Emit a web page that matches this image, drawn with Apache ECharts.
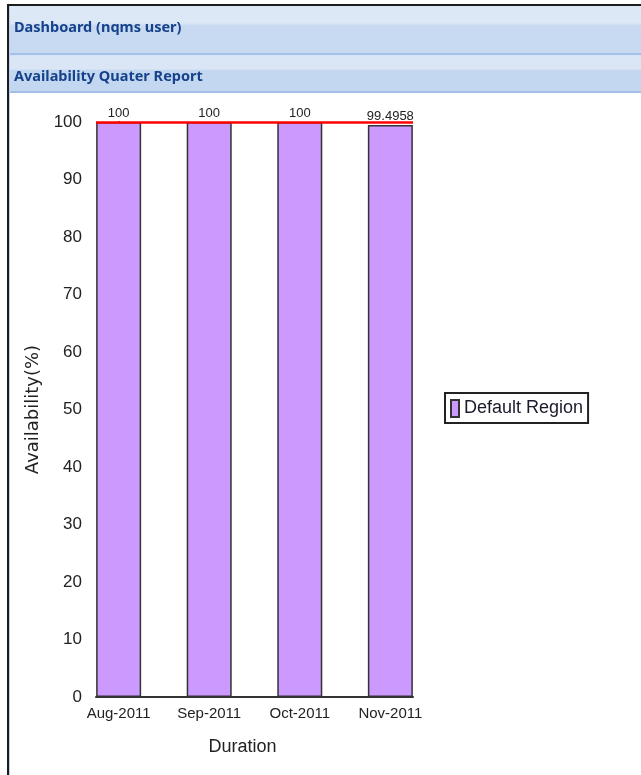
<!DOCTYPE html>
<html>
<head>
<meta charset="utf-8">
<title>Availability Quater Report</title>
<script src="https://cdn.jsdelivr.net/npm/echarts@6/dist/echarts.min.js"></script>
<style>
  html, body { margin: 0; padding: 0; background: #ffffff; }
  #chart { width: 641px; height: 775px; }
</style>
</head>
<body>
<div id="chart"></div>
<script>
// Panel headings
const panelTitle = 'Dashboard (nqms user)';
const reportTitle = 'Availability Quater Report';

// Report data: monthly availability per region
const categories = ['Aug-2011', 'Sep-2011', 'Oct-2011', 'Nov-2011'];
const availability = [100, 100, 100, 99.4958];
const seriesName = 'Default Region';
const targetLevel = 100;

// Axis ticks and titles
const yTicks = [0, 10, 20, 30, 40, 50, 60, 70, 80, 90, 100];
const yAxisTitle = 'Availability(%)';
const xAxisTitle = 'Duration';

const chart = echarts.init(document.getElementById('chart'), null, { renderer: 'canvas' });

const barData = categories.map((c, i) => [i, availability[i]]);
const categoryPositions = categories.map((c, i) => i);

function headerBar(y, h, light, dark) {
  return {
    type: 'rect',
    silent: true,
    shape: { x: 10, y: y, width: 631, height: h },
    style: {
      fill: new echarts.graphic.LinearGradient(0, 0, 0, 1, [
        { offset: 0, color: light },
        { offset: 0.36, color: light },
        { offset: 0.42, color: dark },
        { offset: 1, color: dark }
      ])
    },
    z: 0
  };
}

const option = {
  backgroundColor: '#ffffff',
  animation: false,
  graphic: [
    // frame
    { type: 'rect', silent: true, shape: { x: 7, y: 4, width: 634, height: 2 }, style: { fill: '#1c1c1c' }, z: 2 },
    { type: 'rect', silent: true, shape: { x: 7, y: 4, width: 2, height: 771 }, style: { fill: '#1c1c1c' }, z: 2 },
    { type: 'rect', silent: true, shape: { x: 9, y: 6, width: 1, height: 769 }, style: { fill: '#b9cfee' }, z: 2 },
    // heading bars
    headerBar(6, 47, '#dde8f7', '#c8daf1'),
    { type: 'rect', silent: true, shape: { x: 10, y: 53, width: 631, height: 2 }, style: { fill: '#a6c1e7' }, z: 1 },
    { type: 'rect', silent: true, shape: { x: 10, y: 55, width: 631, height: 1 }, style: { fill: '#d5e3f6' }, z: 1 },
    headerBar(56, 35, '#dae6f6', '#c4d7f0'),
    { type: 'rect', silent: true, shape: { x: 10, y: 91, width: 631, height: 2 }, style: { fill: '#a3bfe7' }, z: 1 },
    {
      type: 'text', silent: true, x: 14, y: 28, z: 3,
      style: {
        text: panelTitle, fill: '#15428b',
        font: 'bold 14.5px "Noto Sans", sans-serif',
        verticalAlign: 'middle', align: 'left'
      }
    },
    {
      type: 'text', silent: true, x: 14, y: 77, z: 3,
      style: {
        text: reportTitle, fill: '#15428b',
        font: 'bold 14.5px "Noto Sans", sans-serif',
        verticalAlign: 'middle', align: 'left'
      }
    }
  ],
  grid: {
    left: 96,
    right: 228,
    top: 122,
    bottom: 78,
    containLabel: false
  },
  legend: {
    show: true,
    data: [seriesName],
    orient: 'vertical',
    left: 445,
    top: 393,
    padding: [6, 5, 5, 5],
    borderColor: '#222222',
    borderWidth: 2,
    borderRadius: 0,
    itemWidth: 8,
    itemHeight: 17,
    icon: 'rect',
    textStyle: {
      fontFamily: '"Liberation Sans", Arial, sans-serif',
      fontSize: 18,
      color: '#1a1a2a'
    }
  },
  xAxis: {
    type: 'value',
    min: -0.25,
    max: 3.25,
    name: xAxisTitle,
    nameLocation: 'middle',
    nameGap: 41,
    nameTextStyle: {
      fontFamily: '"Liberation Sans", Arial, sans-serif',
      fontSize: 18,
      color: '#222222',
      padding: [0, 24, 0, 0]
    },
    axisLine: { show: true, onZero: false, lineStyle: { color: '#333333', width: 2 } },
    axisTick: { show: false },
    splitLine: { show: false },
    axisLabel: {
      customValues: categoryPositions,
      formatter: (v) => categories[Math.round(v)],
      fontFamily: '"Liberation Sans", Arial, sans-serif',
      fontSize: 15,
      color: '#222222',
      margin: 9
    }
  },
  yAxis: {
    type: 'value',
    min: yTicks[0],
    max: yTicks[yTicks.length - 1],
    interval: yTicks[1] - yTicks[0],
    name: yAxisTitle,
    nameLocation: 'middle',
    nameRotate: 90,
    nameGap: 54,
    nameTextStyle: {
      fontFamily: '"DejaVu Sans", sans-serif',
      fontSize: 18,
      color: '#222222'
    },
    axisLine: { show: true, lineStyle: { color: '#333333', width: 2 } },
    axisTick: { show: true, length: 4, inside: false, lineStyle: { color: '#333333', width: 1 } },
    splitLine: { show: false },
    axisLabel: {
      formatter: (v) => String(v),
      fontFamily: '"Liberation Sans", Arial, sans-serif',
      fontSize: 17,
      color: '#222222',
      margin: 14
    }
  },
  series: [
    {
      name: seriesName,
      type: 'bar',
      barWidth: 45,
      data: barData,
      itemStyle: {
        color: '#cc99ff',
        borderColor: '#333333',
        borderWidth: 1.5
      },
      label: {
        show: true,
        position: 'top',
        distance: 2,
        formatter: (p) => String(p.value[1]),
        fontFamily: '"Liberation Sans", Arial, sans-serif',
        fontSize: 13,
        color: '#222222'
      },
      markLine: {
        silent: true,
        symbol: ['none', 'none'],
        label: { show: false },
        lineStyle: { color: '#ff0000', width: 2.5, type: 'solid' },
        data: [{ yAxis: targetLevel }],
        z: 10
      }
    }
  ]
};

chart.setOption(option);
</script>
</body>
</html>
